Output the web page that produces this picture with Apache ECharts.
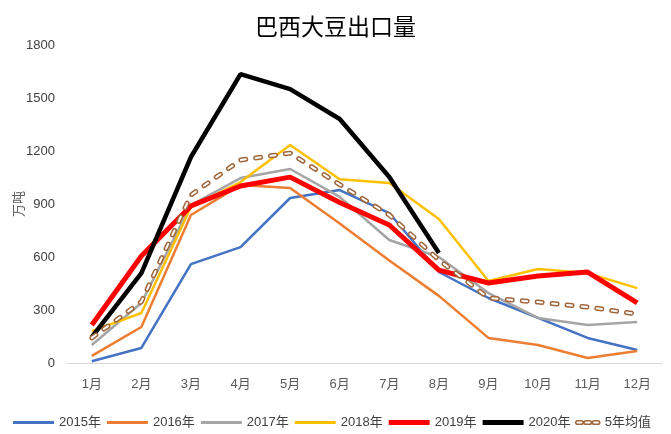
<!DOCTYPE html>
<html>
<head>
<meta charset="utf-8">
<script src="https://cdn.jsdelivr.net/npm/echarts@6/dist/echarts.min.js"></script>
<style>
  html, body { margin: 0; padding: 0; background: #fff; }
  #chart { width: 671px; height: 434px; }
</style>
</head>
<body>
<div id="chart"></div>
<script>
// Brazil soybean exports by month, 10k tonnes
const months = ['1月', '2月', '3月', '4月', '5月', '6月', '7月', '8月', '9月', '10月', '11月', '12月'];
const y2015 = [10, 85, 560, 656, 934, 979, 849, 515, 368, 255, 142, 74];
const y2016 = [40, 204, 838, 1007, 990, 790, 580, 380, 142, 102, 28, 68];
const y2017 = [102, 340, 894, 1047, 1098, 940, 696, 600, 396, 255, 215, 232];
const y2018 = [180, 283, 883, 1024, 1234, 1040, 1019, 815, 464, 532, 509, 424];
const y2019 = [215, 606, 889, 1002, 1052, 908, 781, 526, 453, 492, 515, 340];
const y2020 = [147, 509, 1166, 1635, 1550, 1381, 1053, 623];
const avg5 = [142, 347, 951, 1149, 1188, 1010, 838, 583, 368, 345, 317, 277];
const yTicks = { min: 0, max: 1800, step: 300 };
const unitLabel = '万吨';

const numFont = '"Liberation Sans Narrow", "Liberation Sans", sans-serif';
const cjkFont = '"Noto Sans CJK SC", sans-serif';
const brown = '#A0653A';

function thinLine(name, data, color, width) {
  return {
    name: name, type: 'line', data: data, symbol: 'none', smooth: false,
    lineStyle: { color: color, width: width }, itemStyle: { color: color },
    emphasis: { disabled: true }
  };
}

const lineIcon = function (h) { return 'path://M0,0h41v' + h + 'h-41z'; };
const legendText = { fontFamily: '"Liberation Sans", "Noto Sans CJK SC", sans-serif', fontSize: 13, color: '#404040' };

const chart = echarts.init(document.getElementById('chart'), null, { renderer: 'canvas' });
chart.setOption({
  animation: false,
  backgroundColor: '#fff',
  title: {
    text: '巴西大豆出口量', left: 'center', top: 10,
    textStyle: { fontFamily: cjkFont, fontSize: 23, fontWeight: 'normal', color: '#000' }
  },
  grid: { left: 67, right: 9, top: 45, bottom: 71, containLabel: false, outerBoundsMode: 'none' },
  graphic: [{
    // unit caption beside the value axis, reading bottom to top
    type: 'text', x: 18, y: 204, rotation: Math.PI / 2,
    style: {
      text: unitLabel, fontFamily: cjkFont, fontSize: 13, fill: '#595959',
      align: 'center', verticalAlign: 'middle'
    }
  }],
  legend: [
    {
      left: 13, top: 416, padding: 0, itemWidth: 41, itemHeight: 8, itemGap: 6,
      textStyle: legendText,
      data: [
        { name: '2015年', icon: lineIcon(3), itemStyle: { color: '#4472C4' } },
        { name: '2016年', icon: lineIcon(3), itemStyle: { color: '#ED7D31' } },
        { name: '2017年', icon: lineIcon(3), itemStyle: { color: '#A5A5A5' } },
        { name: '2018年', icon: lineIcon(3), itemStyle: { color: '#FFC000' } },
        { name: '2019年', icon: lineIcon(5), itemStyle: { color: '#FF0000' } },
        { name: '2020年', icon: lineIcon(5), itemStyle: { color: '#000000' } }
      ]
    },
    {
      left: 575, top: 416, padding: 0, itemWidth: 24, itemHeight: 6,
      textStyle: legendText,
      data: [{
        name: '5年均值',
        icon: 'path://M1,0h4a1,1 0 0 1 0,4h-4a1,1 0 0 1 0,-4z M10,0h4a1,1 0 0 1 0,4h-4a1,1 0 0 1 0,-4z M19,0h4a1,1 0 0 1 0,4h-4a1,1 0 0 1 0,-4z',
        itemStyle: { color: '#fff', borderColor: brown, borderWidth: 1.5 }
      }]
    }
  ],
  xAxis: {
    type: 'category', data: months, boundaryGap: true,
    axisLine: { lineStyle: { color: '#D9D9D9', width: 1 } },
    axisTick: { show: false },
    axisLabel: { fontFamily: numFont + ',' + cjkFont, fontSize: 13, color: '#595959', margin: 15 }
  },
  yAxis: {
    type: 'value', min: yTicks.min, max: yTicks.max, interval: yTicks.step,
    axisLine: { show: false }, axisTick: { show: false }, splitLine: { show: false },
    axisLabel: {
      fontFamily: numFont, fontSize: 13, color: '#404040', margin: 12,
      formatter: function (v) { return String(v); }
    }
  },
  series: [
    thinLine('2015年', y2015, '#4472C4', 2.5),
    thinLine('2016年', y2016, '#ED7D31', 2.5),
    thinLine('2017年', y2017, '#A5A5A5', 2.5),
    thinLine('2018年', y2018, '#FFC000', 2.5),
    thinLine('2019年', y2019, '#FF0000', 5),
    thinLine('2020年', y2020, '#000000', 4.5),
    {
      name: '5年均值', type: 'line', data: avg5, symbol: 'none',
      lineStyle: { color: brown, width: 5, type: [5, 10], cap: 'round' },
      itemStyle: { color: brown }, emphasis: { disabled: true }
    },
    {
      // white core that turns the brown dashes into outlined dashes
      name: 'avg-core', type: 'line', data: avg5, symbol: 'none',
      lineStyle: { color: '#fff', width: 2, type: [5, 10], cap: 'round' },
      emphasis: { disabled: true }, silent: true
    }
  ]
});
</script>
</body>
</html>
